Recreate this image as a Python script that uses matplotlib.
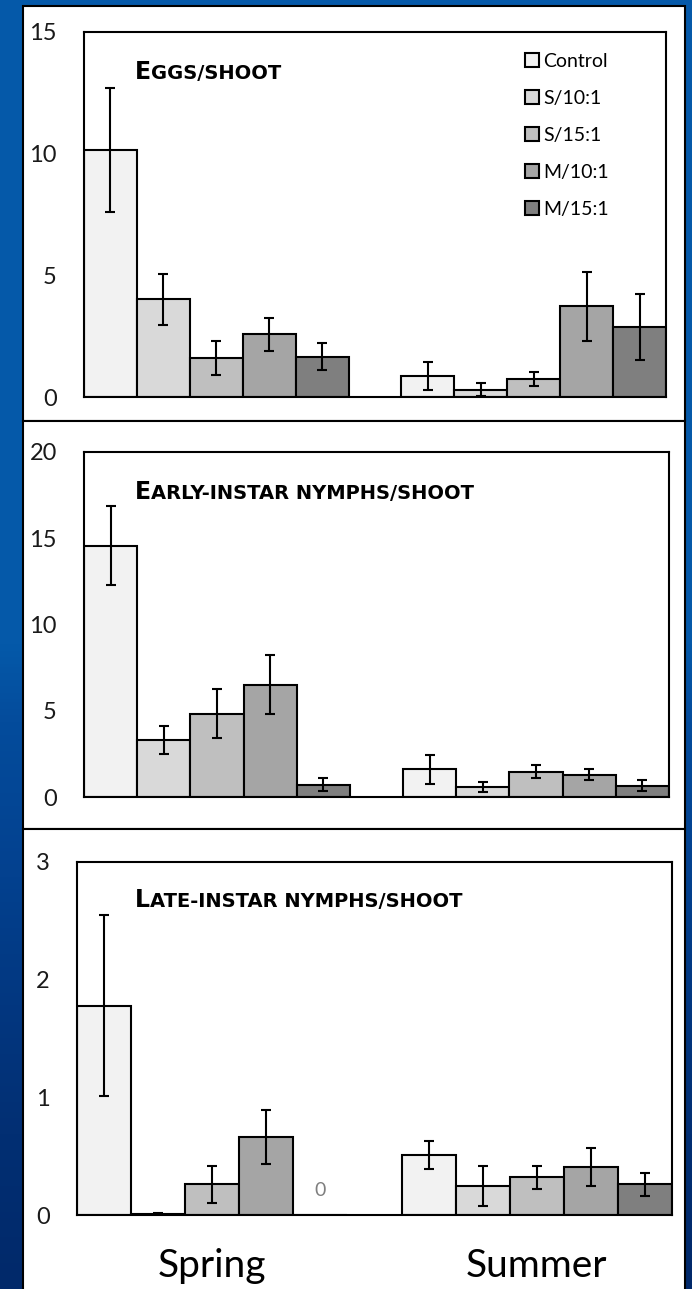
import numpy as np
import matplotlib
matplotlib.use('Agg')
from matplotlib import pyplot as plt
from matplotlib.patches import Rectangle
from matplotlib.offsetbox import TextArea, HPacker, AnnotationBbox
from matplotlib.colors import to_rgb

plt.rcParams['font.family'] = ['Lato', 'DejaVu Sans']

treatments = ['Control', 'S/10:1', 'S/15:1', 'M/10:1', 'M/15:1']
colors = ['#f2f2f2', '#d9d9d9', '#bfbfbf', '#a5a5a5', '#7f7f7f']
seasons = ['Spring', 'Summer']

# means and standard errors, one value per treatment
eggs_spring = [10.15, 4.02, 1.60, 2.57, 1.65]
eggs_spring_se = [2.53, 1.05, 0.69, 0.67, 0.56]
eggs_summer = [0.86, 0.30, 0.75, 3.73, 2.88]
eggs_summer_se = [0.56, 0.27, 0.28, 1.41, 1.37]

early_spring = [14.57, 3.32, 4.83, 6.51, 0.71]
early_spring_se = [2.30, 0.82, 1.41, 1.72, 0.38]
early_summer = [1.62, 0.58, 1.47, 1.29, 0.66]
early_summer_se = [0.84, 0.27, 0.38, 0.31, 0.33]

late_spring = [1.78, 0.01, 0.26, 0.66, 0.0]
late_spring_se = [0.77, 0.01, 0.16, 0.23, np.nan]
late_summer = [0.51, 0.25, 0.32, 0.41, 0.26]
late_summer_se = [0.12, 0.17, 0.10, 0.16, 0.095]

W, H = 692, 1289
fig = plt.figure(figsize=(W/100, H/100), dpi=100)

# slide background gradient
bg = fig.add_axes([0, 0, 1, 1], zorder=-10)
stops = [0.0, 0.5, 0.56, 0.68, 0.78, 0.88, 1.0]
cols = [to_rgb(c) for c in ['#0559a9', '#0559a9', '#044c9c', '#03418f', '#023780', '#022f73', '#01296a']]
yy = np.linspace(0, 1, 400)
grad = np.array([[np.interp(v, stops, [c[i] for c in cols]) for i in range(3)] for v in yy])
bg.imshow(grad[:, None, :], aspect='auto', extent=[0, 1, 1, 0])
bg.set_xlim(0, 1); bg.set_ylim(1, 0)
bg.axis('off')

# white panels (pixel coords from top)
for top, bot in [(6, 421), (421, 829), (829, 1300)]:
    fig.patches.append(Rectangle((22.5/W, 1-bot/H), (685-22.5)/W, (bot-top)/H,
                                 transform=fig.transFigure, facecolor='white',
                                 edgecolor='black', linewidth=1.5, zorder=-5))

def px_axes(x0, x1, y0, y1):
    return fig.add_axes([x0/W, 1-y1/H, (x1-x0)/W, (y1-y0)/H])

def draw_panel(ax, spring, spring_se, summer, summer_se, ymax, step):
    bars = []
    for k in range(5):
        x = [k + 0.5, 6 + k + 0.5]
        b = ax.bar(x, [spring[k], summer[k]], width=1, color=colors[k],
                   edgecolor='black', linewidth=1.5, label=treatments[k], zorder=2)
        ax.errorbar(x, [spring[k], summer[k]], yerr=[spring_se[k], summer_se[k]],
                    fmt='none', ecolor='black', elinewidth=1.5, capsize=3.5, capthick=1.5, zorder=3)
        bars.append(b)
    ax.set_xlim(0, 11)
    ax.set_ylim(0, ymax)
    ax.set_yticks(np.arange(0, ymax + 0.01, step))
    ax.set_xticks([])
    ax.tick_params(axis='y', length=0, pad=19.5, labelsize=17, labelcolor='#1a1a1a')
    for s in ax.spines.values():
        s.set_linewidth(1.5)
    ax.set_facecolor('white')
    return bars

def title(big, small, x, y):
    tp = dict(fontsize=17, fontweight='bold', family='DejaVu Sans', color='black')
    tp2 = dict(fontsize=14, fontweight='bold', family='DejaVu Sans', color='black')
    pack = HPacker(children=[TextArea(big, textprops=tp), TextArea(small, textprops=tp2)],
                   align='baseline', pad=0, sep=0)
    ab = AnnotationBbox(pack, (x, H - y), xycoords='figure pixels', box_alignment=(0, 0),
                        frameon=False, pad=0)
    fig.add_artist(ab)

ax1 = px_axes(84, 666, 32, 397)
bars = draw_panel(ax1, eggs_spring, eggs_spring_se, eggs_summer, eggs_summer_se, 15, 5)
title('E', 'GGS/SHOOT', 135, 84)
ax1.legend(handles=bars, loc='upper left', bbox_to_anchor=(525/W, 1-53/H),
           bbox_transform=fig.transFigure, frameon=False, fontsize=14,
           handlelength=0.7, handleheight=0.7, handletextpad=0.25,
           labelspacing=1.03, borderpad=0, borderaxespad=0)

ax2 = px_axes(84, 669, 452, 797)
draw_panel(ax2, early_spring, early_spring_se, early_summer, early_summer_se, 20, 5)
title('E', 'ARLY-INSTAR NYMPHS/SHOOT', 135, 504)

ax3 = px_axes(77, 672, 862, 1215)
draw_panel(ax3, late_spring, late_spring_se, late_summer, late_summer_se, 3, 1)
title('L', 'ATE-INSTAR NYMPHS/SHOOT', 135, 912)
ax3.text(4.5, late_spring[4] + 0.21, '0', ha='center', va='center', fontsize=14, color='#7f7f7f')
ax3.set_xticks([2.5, 8.5])
ax3.set_xticklabels(seasons, fontsize=28)
ax3.tick_params(axis='x', length=0, pad=24)

fig.savefig('out.png', dpi=100)
